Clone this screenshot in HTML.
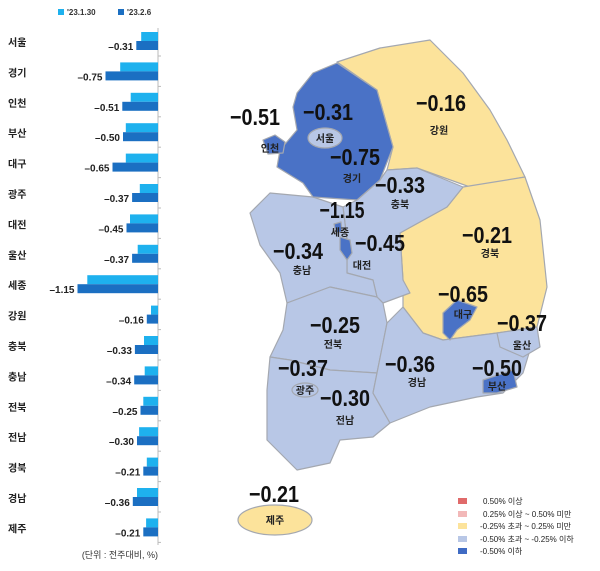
<!DOCTYPE html>
<html><head><meta charset="utf-8"><style>
body{margin:0;background:#fff;width:600px;height:566px;overflow:hidden;font-family:"Liberation Sans","Noto Sans CJK KR",sans-serif}
svg text{font-family:"Liberation Sans","Noto Sans CJK KR",sans-serif}
</style></head><body>
<svg width="600" height="566">
<g id="bars"></g>
<g id="map" stroke="#a4a8b0" stroke-width="1.2" stroke-linejoin="round">
<path fill="#fce39b" d="M337,62 L380,48 L430,40 L463,73 L490,110 L507,140 L525,177 L470,187 L417,168 L387,170 L393,147 L377,90 Z"/>
<path fill="#fce39b" d="M463,187 L525,177 L540,220 L547,287 L537,327 L497,333 L443,340 L423,333 L403,307 L403,280 L400,233 L447,207 Z"/>
<path fill="#b8c7e6" d="M387,170 L417,168 L463,187 L447,207 L400,233 L403,280 L410,293 L383,303 L377,297 L373,280 L347,273 L347,240 L343,207 L357,200 L380,180 Z"/>
<path fill="#b8c7e6" d="M250,213 L270,193 L313,197 L343,207 L347,240 L347,273 L373,280 L377,297 L330,287 L287,303 L280,273 L260,245 Z"/>
<path fill="#b8c7e6" d="M287,303 L330,287 L377,297 L383,303 L387,323 L377,373 L330,370 L290,360 L270,357 L283,330 Z"/>
<path fill="#b8c7e6" d="M270,357 L290,360 L330,370 L377,373 L373,393 L390,423 L373,437 L340,440 L330,463 L297,470 L267,440 L267,390 Z"/>
<path fill="#b8c7e6" d="M387,323 L403,307 L423,333 L443,340 L497,333 L510,337 L530,350 L523,373 L503,393 L477,397 L430,407 L390,423 L373,393 L377,373 Z"/>
<path fill="#b8c7e6" d="M497,333 L537,327 L540,347 L523,357 L500,347 Z"/>
<path fill="#4a72c6" d="M483,380 L513,370 L517,387 L497,393 L483,393 Z"/>
<path fill="#4a72c6" d="M297,93 L313,73 L337,63 L377,90 L393,147 L380,180 L357,200 L313,197 L303,183 L277,167 L280,150 L297,130 L293,107 Z"/>
<path fill="#4a72c6" d="M263,140 L275,135 L285,142 L283,153 L268,154 Z"/>
<ellipse fill="#b8c7e6" cx="325" cy="138" rx="17" ry="10"/>
<path fill="#4a72c6" d="M443,313 L457,300 L477,307 L470,320 L457,330 L450,340 L443,333 Z"/>
<path fill="#4a72c6" d="M340,237 L350,240 L352,253 L347,260 L340,250 Z"/>
<path fill="#4a72c6" d="M334,224 L341,222 L342,232 L336,233 Z"/>
<ellipse fill="#b8c7e6" cx="305" cy="390" rx="13" ry="7"/>
<ellipse fill="#fce39b" cx="275" cy="520" rx="37" ry="15"/>
</g>
<g id="maplabels"></g>
<g font-size="8" fill="#222">
<rect x="458" y="498" width="9" height="6" fill="#e06a6a"/><text x="483" y="504">0.50% 이상</text>
<rect x="458" y="511" width="9" height="6" fill="#f2b8b8"/><text x="483" y="517">0.25% 이상 ~ 0.50% 미만</text>
<rect x="458" y="523" width="9" height="6" fill="#fce39b"/><text x="480" y="529">-0.25% 초과 ~ 0.25% 미만</text>
<rect x="458" y="536" width="9" height="6" fill="#b8c7e6"/><text x="480" y="542">-0.50% 초과 ~ -0.25% 이하</text>
<rect x="458" y="548" width="9" height="6" fill="#3f6bc4"/><text x="480" y="554">-0.50% 이하</text>
</g>
<g font-size="8" font-weight="bold" fill="#333">
<rect x="58" y="9" width="6" height="6" fill="#1eb1ee"/><text x="67" y="15">'23.1.30</text>
<rect x="118" y="9" width="6" height="6" fill="#1b6fc2"/><text x="127" y="15">'23.2.6</text>
</g>
<text x="158" y="558" font-size="9" text-anchor="end" fill="#333">(단위 : 전주대비, %)</text>
</svg>
<script>
const regions=["서울","경기","인천","부산","대구","광주","대전","울산","세종","강원","충북","충남","전북","전남","경북","경남","제주"];
const prevValues=[-0.24,-0.54,-0.39,-0.46,-0.46,-0.26,-0.40,-0.29,-1.01,-0.10,-0.20,-0.19,-0.21,-0.27,-0.16,-0.30,-0.17];
const currValues=[-0.31,-0.75,-0.51,-0.50,-0.65,-0.37,-0.45,-0.37,-1.15,-0.16,-0.33,-0.34,-0.25,-0.30,-0.21,-0.36,-0.21];
const NS="http://www.w3.org/2000/svg";
const x0=158,scale=70,rowY0=42,rowStep=30.4;
const xs=v=>x0+v*scale;
const ys=i=>rowY0+i*rowStep;
const g=document.getElementById('bars');
function mk(t,a){const e=document.createElementNS(NS,t);for(const k in a)e.setAttribute(k,a[k]);return e;}
const axis=mk('line',{x1:x0,x2:x0,y1:28,y2:545,stroke:'#bbb','stroke-width':1});


g.appendChild(axis);
regions.forEach((r,i)=>{
 const y=ys(i);
 const lb=mk('text',{x:8,y:y+4,'font-size':10,'font-weight':'bold',fill:'#222'});lb.textContent=r;
 
 
 g.appendChild(lb);
 const b1=mk('rect',{x:xs(prevValues[i]),y:y-10,width:x0-xs(prevValues[i]),height:9,fill:'#1eb1ee'});
 
 
 g.appendChild(b1);
 const b2=mk('rect',{x:xs(currValues[i]),y:y-1,width:x0-xs(currValues[i]),height:9,fill:'#1b6fc2'});
 
 
 g.appendChild(b2);
 const vl=mk('text',{x:xs(currValues[i])-3,y:y+8,'font-size':10,'font-weight':'bold','text-anchor':'end',fill:'#222'});
 vl.textContent=currValues[i].toFixed(2).replace('-','–');
 
 
 g.appendChild(vl);
 const tk=mk('line',{x1:x0,x2:x0+3,y1:y+14,y2:y+14,stroke:'#bbb'});
 
 
 g.appendChild(tk);
});
const mapNames=["서울","경기","인천","부산","대구","광주","대전","울산","세종","강원","충북","충남","전북","전남","경북","경남","제주"];
const numPos=[[328,120],[355,165],[255,125],[497,376],[463,302],[303,376],[380,251],[522,331],[342,218],[441,111],[400,193],[298,259],[335,333],[345,406],[487,243],[410,372],[274,502]];
const namePos=[[325,142],[352,182],[270,152],[497,390],[463,318],[305,394],[362,269],[522,349],[340,236],[439,134],[400,208],[302,274],[333,348],[345,424],[490,257],[417,386],[275,524]];
const ml=document.getElementById('maplabels');
mapNames.forEach((n,i)=>{
 const t=mk('text',{x:numPos[i][0],y:numPos[i][1],'font-size':23,'font-weight':'bold','text-anchor':'middle',fill:'#111',textLength:(currValues[i]<=-1?45:50),lengthAdjust:'spacingAndGlyphs'});
 t.textContent=currValues[i].toFixed(2).replace('-','−');
 
 
 ml.appendChild(t);
 const s=mk('text',{x:namePos[i][0],y:namePos[i][1],'font-size':10,'font-weight':'bold','text-anchor':'middle',fill:'#222'});
 s.textContent=n;
 
 
 ml.appendChild(s);
});
</script>
</body></html>
